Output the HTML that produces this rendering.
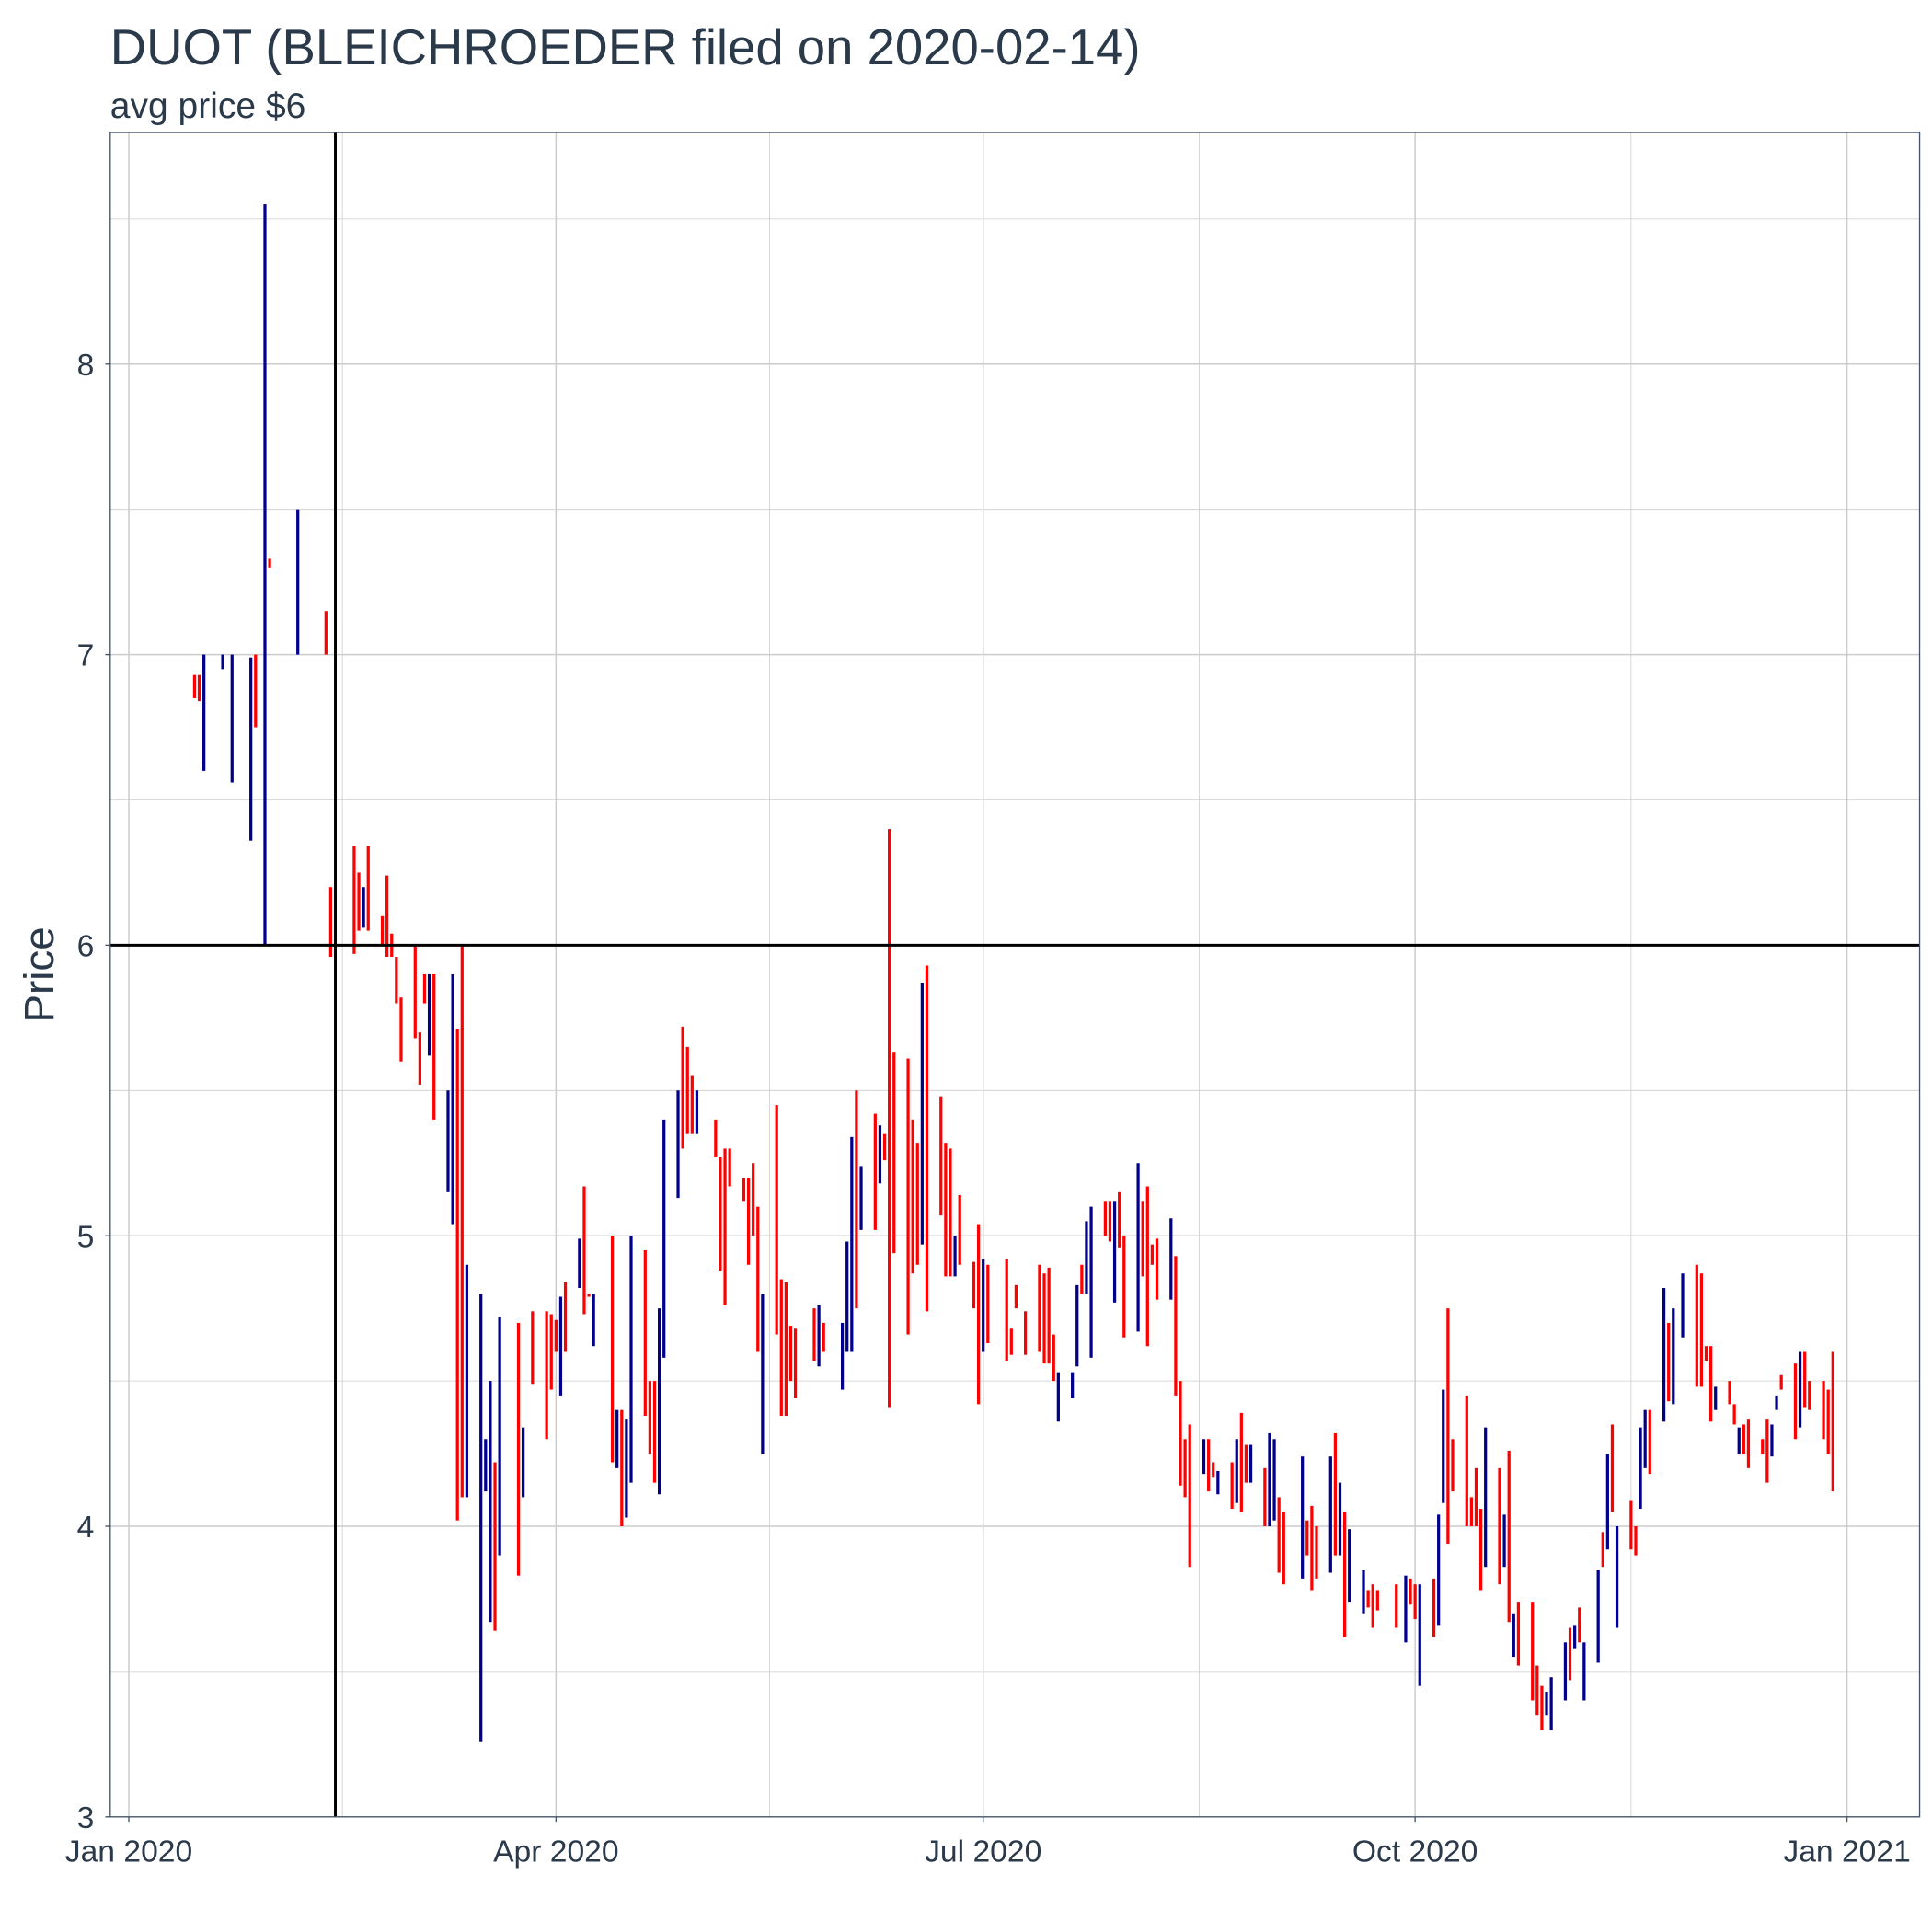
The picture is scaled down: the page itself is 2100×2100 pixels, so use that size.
<!DOCTYPE html>
<html><head><meta charset="utf-8"><style>
html,body{margin:0;padding:0;background:#fff;}
svg{display:block;font-family:"Liberation Sans",sans-serif;}
</style></head><body>
<svg id="chart" width="2100" height="2100" viewBox="0 0 1560 1560" xmlns="http://www.w3.org/2000/svg">
<text x="89" y="52" font-size="40.5" fill="#2b3a4a">DUOT (BLEICHROEDER filed on 2020-02-14)</text>
<text x="89" y="95" font-size="29" fill="#2b3a4a">avg price $6</text>
<text x="0" y="0" font-size="34" fill="#2b3a4a" text-anchor="middle" transform="translate(43,787) rotate(-90)">Price</text>
<g id="grid"></g><g id="bars"></g><g id="refs"></g><g id="axes"></g>
<rect x="89" y="107" width="1461" height="1360" fill="none" stroke="#44546a" stroke-width="1"/>
</svg>
<script>
const days=[14,15,16,20,22,26,27,29,30,36,42,43,48,49,50,51,54,55,56,57,58,61,62,63,64,65,68,69,70,71,72,75,76,77,78,79,83,84,86,89,90,91,92,93,96,97,98,99,103,104,105,106,107,110,111,112,113,114,117,118,119,120,121,125,126,127,128,131,132,133,134,135,138,139,140,141,142,146,147,148,152,153,154,155,156,159,160,161,162,163,166,167,168,169,170,173,174,175,176,177,180,181,182,183,187,188,189,191,194,195,196,197,198,201,202,203,204,205,208,209,210,211,212,215,216,217,218,219,222,223,224,225,226,229,230,231,232,235,236,237,238,239,242,243,244,245,246,250,251,252,253,256,257,258,259,260,263,264,265,266,270,272,273,274,275,278,279,280,281,282,285,286,287,288,289,292,293,294,295,296,299,300,301,302,303,306,307,308,309,310,313,314,315,316,317,320,321,322,323,324,327,328,329,331,334,335,336,337,338,341,342,343,344,345,348,349,350,351,352,355,356,357,358,361,362,363];
const lows=[6.85,6.84,6.6,6.95,6.56,6.36,6.75,6.0,7.3,7.0,7.0,5.96,5.97,6.05,6.06,6.05,6.0,5.96,5.96,5.8,5.6,5.68,5.52,5.8,5.62,5.4,5.15,5.04,4.02,4.1,4.1,3.26,4.12,3.67,3.64,3.9,3.83,4.1,4.49,4.3,4.47,4.6,4.45,4.6,4.82,4.73,4.79,4.62,4.22,4.2,4.0,4.03,4.15,4.38,4.25,4.15,4.11,4.58,5.13,5.3,5.35,5.35,5.35,5.27,4.88,4.76,5.17,5.12,4.9,5.0,4.6,4.25,4.66,4.38,4.38,4.5,4.44,4.57,4.55,4.6,4.47,4.6,4.6,4.75,5.02,5.02,5.18,5.26,4.41,4.94,4.66,4.87,4.9,4.97,4.74,5.07,4.86,4.86,4.86,4.9,4.75,4.42,4.6,4.63,4.57,4.59,4.75,4.59,4.6,4.56,4.56,4.5,4.36,4.44,4.55,4.8,4.8,4.58,5.0,4.98,4.77,4.96,4.65,4.67,4.86,4.62,4.9,4.78,4.78,4.45,4.14,4.1,3.86,4.18,4.12,4.17,4.11,4.06,4.08,4.05,4.15,4.15,4.0,4.0,4.02,3.84,3.8,3.82,3.9,3.78,3.82,3.84,3.9,3.9,3.62,3.74,3.7,3.72,3.65,3.71,3.65,3.6,3.73,3.68,3.45,3.62,3.66,4.08,3.94,4.12,4.0,4.0,4.0,3.78,3.86,3.8,3.86,3.67,3.55,3.52,3.4,3.35,3.3,3.35,3.3,3.4,3.47,3.58,3.6,3.4,3.53,3.86,3.92,4.05,3.65,3.92,3.9,4.06,4.2,4.18,4.36,4.43,4.42,4.65,4.48,4.48,4.57,4.36,4.4,4.42,4.35,4.25,4.25,4.2,4.25,4.15,4.24,4.4,4.47,4.3,4.34,4.41,4.4,4.3,4.25,4.12];
const highs=[6.93,6.93,7.0,7.0,7.0,6.99,7.0,8.55,7.33,7.5,7.15,6.2,6.34,6.25,6.2,6.34,6.1,6.24,6.04,5.96,5.82,6.0,5.7,5.9,5.9,5.9,5.5,5.9,5.71,6.0,4.9,4.8,4.3,4.5,4.22,4.72,4.7,4.34,4.74,4.74,4.73,4.71,4.79,4.84,4.99,5.17,4.8,4.8,5.0,4.4,4.4,4.37,5.0,4.95,4.5,4.5,4.75,5.4,5.5,5.72,5.65,5.55,5.5,5.4,5.27,5.3,5.3,5.2,5.2,5.25,5.1,4.8,5.45,4.85,4.84,4.69,4.68,4.75,4.76,4.7,4.7,4.98,5.34,5.5,5.24,5.42,5.38,5.35,6.4,5.63,5.61,5.4,5.32,5.87,5.93,5.48,5.32,5.3,5.0,5.14,4.91,5.04,4.92,4.9,4.92,4.68,4.83,4.74,4.9,4.87,4.89,4.66,4.53,4.53,4.83,4.9,5.05,5.1,5.12,5.12,5.12,5.15,5.0,5.25,5.12,5.17,4.97,4.99,5.06,4.93,4.5,4.3,4.35,4.3,4.3,4.22,4.19,4.22,4.3,4.39,4.28,4.28,4.2,4.32,4.3,4.1,4.05,4.24,4.02,4.07,4.0,4.24,4.32,4.15,4.05,3.99,3.85,3.78,3.8,3.78,3.8,3.83,3.82,3.8,3.8,3.82,4.04,4.47,4.75,4.3,4.45,4.1,4.2,4.06,4.34,4.2,4.04,4.26,3.7,3.74,3.74,3.52,3.45,3.43,3.48,3.6,3.65,3.66,3.72,3.6,3.85,3.98,4.25,4.35,4.0,4.09,4.0,4.34,4.4,4.4,4.82,4.7,4.75,4.87,4.9,4.87,4.62,4.62,4.48,4.5,4.42,4.34,4.35,4.37,4.3,4.37,4.35,4.45,4.52,4.56,4.6,4.6,4.5,4.5,4.47,4.6];
const ups=[0,0,1,1,1,1,0,1,0,1,0,0,0,0,1,0,0,0,0,0,0,0,0,0,1,0,1,1,0,0,1,1,1,1,0,1,0,1,0,0,0,0,1,0,1,0,0,1,0,1,0,1,1,0,0,0,1,1,1,0,0,0,1,0,0,0,0,0,0,0,0,1,0,0,0,0,0,0,1,0,1,1,1,0,1,0,1,0,0,0,0,0,0,1,0,0,0,0,1,0,0,0,1,0,0,0,0,0,0,0,0,0,1,1,1,0,1,1,0,0,1,0,0,1,0,0,0,0,1,0,0,0,0,1,0,0,1,0,1,0,0,1,0,1,1,0,0,1,0,0,0,1,0,1,0,1,1,0,0,0,0,1,0,0,1,0,1,1,0,0,0,0,0,0,1,0,1,0,1,0,0,0,0,1,1,1,0,1,0,1,1,0,1,0,1,0,0,1,1,0,1,0,1,1,0,0,0,0,1,0,0,1,0,0,0,0,1,1,0,0,1,0,0,0,0,0,0];
const yTicks=[3,4,5,6,7,8];
const xTickDays=[0,91,182,274,366];
const xTickLabels=["Jan 2020","Apr 2020","Jul 2020","Oct 2020","Jan 2021"];
const avgPrice=6, filedDay=44;
const NS="http://www.w3.org/2000/svg";
const X0=89,X1=1550,Y0=107,Y1=1467;
const xs=d=>104+d*3.7906;
const ys=p=>1467-(p-3)*234.6;
function mk(tag,attrs,parent){const e=document.createElementNS(NS,tag);for(const k in attrs)e.setAttribute(k,attrs[k]);document.getElementById(parent).appendChild(e);return e;}
for(let p=3;p<=8.5;p+=0.5){
 const e=mk('line',{x1:X0,x2:X1,y1:ys(p),y2:ys(p),stroke:'#cccccc','stroke-width':p%1===0?1.1:0.6},'grid');
 
 
}
for(let i=0;i<xTickDays.length;i++){
 const e=mk('line',{x1:xs(xTickDays[i]),x2:xs(xTickDays[i]),y1:Y0,y2:Y1,stroke:'#cccccc','stroke-width':1.1},'grid');
 
 
 if(i<xTickDays.length-1){
  const m=(xTickDays[i]+xTickDays[i+1])/2;
  const f=mk('line',{x1:xs(m),x2:xs(m),y1:Y0,y2:Y1,stroke:'#cccccc','stroke-width':0.6},'grid');
  
  
 }
}
for(let i=0;i<days.length;i++){
 const x=xs(days[i]);
 const e=mk('rect',{x:x-1.2,y:ys(highs[i]),width:2.4,height:Math.max(1.5,ys(lows[i])-ys(highs[i])),fill:ups[i]?'#00008B':'#FF0000'},'bars');
 
 
}
let h=mk('line',{x1:X0,x2:X1,y1:ys(avgPrice),y2:ys(avgPrice),stroke:'#000','stroke-width':2.2},'refs');


let v=mk('line',{x1:xs(filedDay),x2:xs(filedDay),y1:Y0,y2:Y1,stroke:'#000','stroke-width':2.2},'refs');


for(const t of yTicks){
 const e=mk('text',{x:76,y:ys(t)+9,'font-size':25,fill:'#2b3a4a','text-anchor':'end'},'axes');
 e.textContent=t;
 
 
 const k=mk('line',{x1:X0-4,x2:X0,y1:ys(t),y2:ys(t),stroke:'#44546a','stroke-width':1},'axes');
 
 
}
for(let i=0;i<xTickDays.length;i++){
 const e=mk('text',{x:xs(xTickDays[i]),y:1503,'font-size':25,fill:'#2b3a4a','text-anchor':'middle'},'axes');
 e.textContent=xTickLabels[i];
 
 
 const k=mk('line',{x1:xs(xTickDays[i]),x2:xs(xTickDays[i]),y1:Y1,y2:Y1+4,stroke:'#44546a','stroke-width':1},'axes');
 
 
}
</script>
</body></html>
